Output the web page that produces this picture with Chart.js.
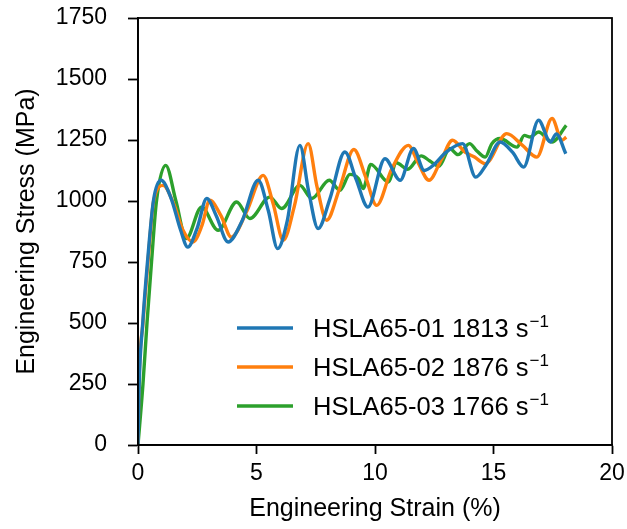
<!DOCTYPE html>
<html>
<head>
<meta charset="utf-8">
<script src="https://cdn.jsdelivr.net/npm/chart.js@4.4.1/dist/chart.umd.min.js"></script>
<style>
  html, body { margin: 0; padding: 0; background: #fff; }
  canvas { display: block; }
</style>
</head>
<body>
<canvas id="stressChart" width="627" height="529"></canvas>
<script>
// sample labels and strain rates (s^-1)
const sampleNames = ['HSLA65-01', 'HSLA65-02', 'HSLA65-03'];
const strainRates = [1813, 1876, 1766];
const lineColors = ['#1f77b4', '#ff7f0e', '#2ca02c'];

// engineering strain (%) / engineering stress (MPa)
const strain01 = [0, 0.05, 0.2, 0.4, 0.65, 0.97, 1.4, 1.8, 2.1, 2.5, 2.9, 3.3, 3.8, 4.4, 5.07, 5.5, 5.89, 6.3, 6.83, 7.2, 7.6, 8.1, 8.73, 9.2, 9.7, 10.42, 11.06, 11.62, 12.08, 12.5, 13.0, 13.7, 14.25, 14.7, 15.28, 15.8, 16.27, 16.9, 17.4, 17.65, 18.05];
const stress01 = [0, 250, 500, 750, 1000, 1085, 1010, 880, 811, 890, 1010, 940, 832, 920, 1085, 960, 805, 920, 1228, 1040, 887, 1010, 1201, 1090, 975, 1173, 1085, 1215, 1125, 1150, 1200, 1235, 1098, 1150, 1242, 1200, 1139, 1331, 1242, 1275, 1194];

const strain02 = [0, 0.04, 0.21, 0.42, 0.66, 1.06, 1.5, 1.9, 2.32, 2.7, 3.03, 3.5, 3.94, 4.6, 5.28, 5.7, 6.13, 6.6, 7.18, 7.55, 7.96, 8.5, 9.11, 9.6, 10.07, 10.7, 11.41, 11.8, 12.28, 12.8, 13.27, 13.8, 14.2, 14.65, 15.56, 16.2, 16.83, 17.47, 17.89, 18.07];
const stress02 = [0, 250, 500, 750, 1000, 1064, 990, 880, 832, 900, 1003, 940, 852, 960, 1105, 990, 839, 980, 1235, 1060, 921, 1050, 1211, 1100, 982, 1130, 1228, 1160, 1085, 1170, 1249, 1200, 1180, 1153, 1276, 1230, 1180, 1338, 1249, 1262];

const strain03 = [0, 0.21, 0.38, 0.57, 0.78, 1.17, 1.6, 2.04, 2.68, 3.38, 4.16, 4.72, 5.56, 6.06, 6.83, 7.33, 8.07, 8.52, 8.94, 9.3, 9.5, 9.82, 10.56, 10.9, 11.38, 11.95, 12.3, 12.7, 13.15, 13.5, 13.99, 14.3, 14.65, 14.93, 15.28, 15.99, 16.3, 16.55, 16.9, 17.47, 18.07];
const stress03 = [0, 250, 500, 750, 1000, 1146, 1000, 846, 975, 880, 996, 928, 1016, 969, 1064, 1010, 1085, 1044, 1109, 1092, 1051, 1150, 1078, 1157, 1130, 1185, 1165, 1142, 1215, 1190, 1235, 1205, 1180, 1235, 1256, 1221, 1269, 1262, 1283, 1242, 1310];

const xTicks = [0, 5, 10, 15, 20];
const yTicks = [0, 250, 500, 750, 1000, 1250, 1500, 1750];

const strains = [strain01, strain02, strain03];
const stresses = [stress01, stress02, stress03];

const FONT = '"Liberation Sans", Arial, sans-serif';

const datasets = sampleNames.map((name, i) => ({
    label: name + ' ' + strainRates[i] + ' s\u207B\u00B9',
    data: strains[i].map((x, j) => ({ x: x, y: stresses[i][j] })),
    borderColor: lineColors[i],
    backgroundColor: lineColors[i],
    borderWidth: 3.4,
    pointRadius: 0,
    fill: false,
    cubicInterpolationMode: 'monotone'
}));

// box round the plot area (matplotlib style spines)
const frame = {
    id: 'frame',
    afterDatasetsDraw(chart) {
        const a = chart.chartArea, c = chart.ctx;
        c.save();
        c.strokeStyle = '#000';
        c.lineWidth = 1.8;
        c.strokeRect(a.left, a.top, a.right - a.left, a.bottom - a.top);
        c.restore();
    }
};

// legend inside the plot, lower right, no box
const innerLegend = {
    id: 'innerLegend',
    afterDraw(chart) {
        const c = chart.ctx;
        c.save();
        sampleNames.forEach((name, i) => {
            const y = 328 + i * 39;
            c.strokeStyle = lineColors[i];
            c.lineWidth = 3.6;
            c.beginPath();
            c.moveTo(237, y);
            c.lineTo(293, y);
            c.stroke();

            c.fillStyle = '#000';
            c.textBaseline = 'alphabetic';
            c.textAlign = 'left';
            c.font = '25.5px ' + FONT;
            const main = name + ' ' + strainRates[i] + ' s';
            c.fillText(main, 313, y + 9);
            const w = c.measureText(main).width;
            c.font = '17px ' + FONT;
            c.fillText('\u22121', 313 + w + 1, y - 1);
        });
        c.restore();
    }
};

new Chart(document.getElementById('stressChart'), {
    type: 'line',
    data: { datasets: datasets },
    plugins: [frame, innerLegend],
    options: {
        responsive: false,
        animation: false,
        devicePixelRatio: 1,
        layout: { padding: { left: 0, right: 15, top: 18, bottom: 0 } },
        plugins: {
            legend: { display: false },
            tooltip: { enabled: false }
        },
        scales: {
            x: {
                type: 'linear',
                min: 0,
                max: 20,
                afterBuildTicks(scale) { scale.ticks = xTicks.map(v => ({ value: v })); },
                afterFit(scale) { scale.height = 84; scale.paddingLeft = 0; scale.paddingRight = 0; },
                ticks: { color: '#000', font: { family: FONT, size: 23 }, padding: 6, maxRotation: 0, callback: v => String(v) },
                grid: { drawOnChartArea: false, drawTicks: true, tickLength: 9, tickWidth: 1.8, tickColor: '#000', color: '#000' },
                border: { display: true, color: '#000', width: 1.8 },
                title: {
                    display: true,
                    text: 'Engineering Strain (%)',
                    color: '#000',
                    font: { family: FONT, size: 25 },
                    padding: { top: 0, bottom: 5 }
                }
            },
            y: {
                min: 0,
                max: 1750,
                afterBuildTicks(scale) { scale.ticks = yTicks.map(v => ({ value: v })); },
                afterFit(scale) { scale.width = 138; scale.paddingTop = 0; scale.paddingBottom = 0; },
                ticks: { color: '#000', font: { family: FONT, size: 23 }, padding: 21, callback: v => String(v) },
                grid: { drawOnChartArea: false, drawTicks: true, tickLength: 10, tickWidth: 1.8, tickColor: '#000', color: '#000' },
                border: { display: true, color: '#000', width: 1.8 },
                title: {
                    display: true,
                    text: 'Engineering Stress (MPa)',
                    color: '#000',
                    font: { family: FONT, size: 25 },
                    padding: { top: 12, bottom: 0 }
                }
            }
        }
    }
});
</script>
</body>
</html>
